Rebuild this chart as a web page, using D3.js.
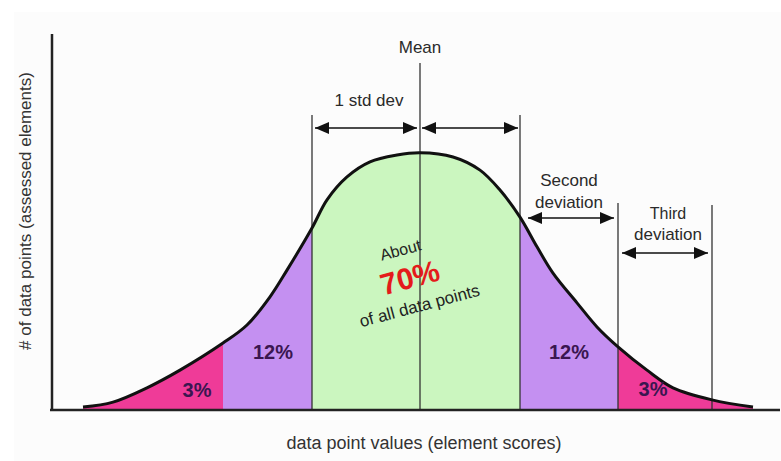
<!DOCTYPE html>
<html><head><meta charset="utf-8">
<script src="https://cdn.jsdelivr.net/npm/d3@7"></script>
<style>
html,body{margin:0;padding:0;background:#fff;}
svg{display:block;font-family:"Liberation Sans",Arial,Helvetica,sans-serif;}
</style></head>
<body>
<svg id="chart" width="781" height="461"></svg>
<script>
// ---- data (scores: mean 50, sd ~10; density in arbitrary units) ----
const curveX = [16.3,19.3,22.7,26.0,30.3,32.7,35.0,36.7,39.2,40.7,42.7,45.0,47.7,50.0,53.3,56.0,58.0,60.0,61.7,63.3,65.7,67.7,69.8,72.7,75.3,79.2,83.3];
const curveY = [0.8,2.1,5.9,10.6,17.8,22.6,30.1,37.2,48.4,55.9,62.0,66.0,67.8,68.4,67.3,63.8,58.5,51.3,43.4,36.4,28.5,22.1,16.8,10.6,5.9,2.7,0.8];
const mean = 50;
const bandEdges = [16.3, 30.3, 39.2, 60.0, 69.8, 83.3];
const bandColors = ["#ef3b98", "#c490f1", "#cbf6bf", "#c490f1", "#ef3b98"];
const bandLabels = ["3%", "12%", "", "12%", "3%"];
const bandLabelX = [27.7, 35.3, null, 64.9, 73.3];
const bandLabelY = [4.8, 15, null, 15, 5];
const thirdLine = 79.2;

const W = 781, H = 461;
const svg = d3.select("#chart");
const x = d3.scaleLinear().domain([13.2, 86]).range([52, 780]);
const y = d3.scaleLinear().domain([0, 100]).range([410, 34]);

// faint background panel
svg.append("rect").attr("x",14).attr("y",12).attr("width",767).attr("height",449).attr("fill","#fcfcfc");

const pts = curveX.map((v,i)=>[v, curveY[i]]);
const cv = d3.curveCatmullRom.alpha(0.5);
const area = d3.area().x(d=>x(d[0])).y0(y(0)).y1(d=>y(d[1])).curve(cv);
const line = d3.line().x(d=>x(d[0])).y(d=>y(d[1])).curve(cv);

const defs = svg.append("defs");
bandColors.forEach((c,i)=>{
  defs.append("clipPath").attr("id","band"+i).append("rect")
    .attr("x", x(bandEdges[i])).attr("y", 0)
    .attr("width", x(bandEdges[i+1]) - x(bandEdges[i])).attr("height", H);
  svg.append("path").datum(pts).attr("d", area).attr("fill", c).attr("clip-path","url(#band"+i+")");
});

// arrow markers
const mk = defs.append("marker").attr("id","arr").attr("viewBox","0 0 14 12")
  .attr("refX",14).attr("refY",6).attr("markerWidth",14).attr("markerHeight",12)
  .attr("markerUnits","userSpaceOnUse").attr("orient","auto-start-reverse");
mk.append("path").attr("d","M0,0 L14,6 L0,12 Z").attr("fill","#111");

// vertical guide lines
const vlines = [
  {v: mean, top: 63},
  {v: bandEdges[2], top: 115},
  {v: bandEdges[3], top: 115},
  {v: bandEdges[4], top: 203},
  {v: thirdLine, top: 205}
];
svg.selectAll(".vl").data(vlines).enter().append("line")
  .attr("x1",d=>x(d.v)).attr("x2",d=>x(d.v)).attr("y1",d=>d.top).attr("y2",y(0))
  .attr("stroke","#333").attr("stroke-width",1.3);

// curve
svg.append("path").datum(pts).attr("d", line).attr("fill","none").attr("stroke","#111").attr("stroke-width",3);

// axes
svg.append("line").attr("x1",52).attr("x2",52).attr("y1",34).attr("y2",y(0)+1).attr("stroke","#222").attr("stroke-width",2.5);
svg.append("line").attr("x1",50).attr("x2",780).attr("y1",y(0)).attr("y2",y(0)).attr("stroke","#222").attr("stroke-width",2.5);

// dimension arrows
function arrow(a, b, yy){
  svg.append("line").attr("x1",x(a)).attr("x2",x(b)).attr("y1",yy).attr("y2",yy)
    .attr("stroke","#111").attr("stroke-width",1.5)
    .attr("marker-start","url(#arr)").attr("marker-end","url(#arr)");
}
arrow(bandEdges[2]+0.3, mean-0.3, 128);
arrow(mean+0.2, bandEdges[3]-0.2, 128);
arrow(bandEdges[3]+0.8, bandEdges[4]-0.4, 218);
arrow(bandEdges[4]+0.4, thirdLine-0.4, 253);

// text labels
function txt(s, xx, yy, size, opts={}){
  return svg.append("text").attr("x",xx).attr("y",yy).attr("text-anchor","middle")
    .attr("font-size",size).attr("fill",opts.fill||"#2a2a2a")
    .attr("font-weight",opts.bold?"bold":"normal").text(s);
}
txt("Mean", x(mean), 53, 17);
txt("1 std dev", 369, 106, 17);
txt("Second", 569, 186, 17);
txt("deviation", 569, 208, 17);
txt("Third", 668, 219, 16);
txt("deviation", 668, 240, 17);

bandLabels.forEach((s,i)=>{
  if(!s) return;
  txt(s, x(bandLabelX[i]), y(bandLabelY[i]) , 20, {bold:true, fill:"#3a1650"})
    .attr("dominant-baseline","middle");
});

// rotated "About 70%" block
const g = svg.append("g").attr("transform","translate(410,278) rotate(-15)");
g.append("text").attr("x",-2).attr("y",-24).attr("text-anchor","middle").attr("font-size",16).attr("fill","#222").text("About");
g.append("text").attr("x",0).attr("y",10).attr("text-anchor","middle").attr("font-size",30).attr("font-weight","bold").attr("fill","#e41b1b").text("70%");
g.append("text").attr("x",2).attr("y",35).attr("text-anchor","middle").attr("font-size",17).attr("fill","#222").text("of all data points");

// axis titles
txt("data point values (element scores)", 424, 449, 18, {fill:"#333"});
svg.append("text").attr("transform","translate(31,211) rotate(-90)").attr("text-anchor","middle")
  .attr("font-size",17).attr("fill","#333").text("# of data points (assessed elements)");
</script>
</body></html>
